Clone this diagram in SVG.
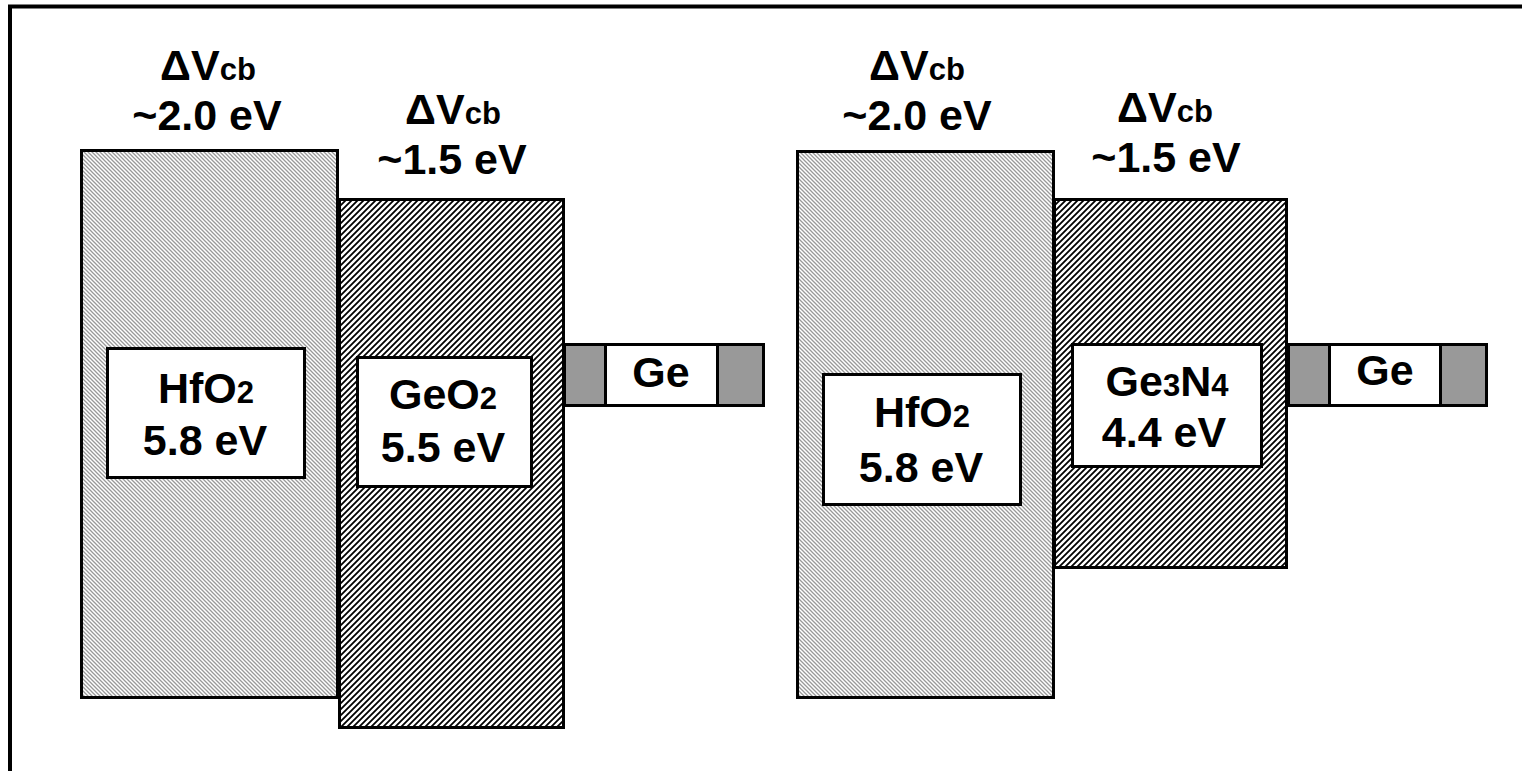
<svg xmlns="http://www.w3.org/2000/svg" width="1522" height="771" viewBox="0 0 1522 771">
<defs>
<pattern id="hatchGray" width="4" height="4" patternUnits="userSpaceOnUse">
<rect width="4" height="4" fill="#fff"/>
<path d="M-1,-1 L5,5 M-1,3 L1,5 M3,-1 L5,1" stroke="#999" stroke-width="1.3"/>
</pattern>
<pattern id="hatchBlack" width="6" height="6" patternUnits="userSpaceOnUse">
<rect width="6" height="6" fill="#fff"/>
<path d="M-1,7 L7,-1 M-1,1 L1,-1 M5,7 L7,5" stroke="#000" stroke-width="1.8"/>
</pattern>
</defs>
<style>
.t{font-family:"Liberation Sans",Arial,Helvetica,sans-serif;font-weight:bold;fill:#000;text-anchor:middle;font-size:43px}
.s{font-size:31px}
.box{stroke:#000;stroke-width:3}
.hg{fill:url(#hatchGray)}
.hb{fill:url(#hatchBlack)}
.w{fill:#fff}
.g{fill:#999}
</style>
<rect x="10" y="6.5" width="1530" height="800" fill="#fff" stroke="#000" stroke-width="4"/>

<g id="label-left-1">
<text class="t" x="208" y="80">ΔV<tspan class="s">cb</tspan></text>
<text class="t" x="207" y="130">~2.0 eV</text>
</g>
<g id="label-left-2">
<text class="t" x="453" y="124">ΔV<tspan class="s">cb</tspan></text>
<text class="t" x="452" y="174">~1.5 eV</text>
</g>
<g id="label-right-1">
<text class="t" x="917" y="80">ΔV<tspan class="s">cb</tspan></text>
<text class="t" x="917" y="130">~2.0 eV</text>
</g>
<g id="label-right-2">
<text class="t" x="1165" y="122">ΔV<tspan class="s">cb</tspan></text>
<text class="t" x="1166" y="172">~1.5 eV</text>
</g>

<g id="hfo2-left">
<rect class="box hg" x="81.5" y="150.5" width="256" height="547"/>
<rect class="box w" x="107.5" y="348.5" width="197" height="129"/>
<text class="t" x="206" y="403">HfO<tspan class="s">2</tspan></text>
<text class="t" x="205" y="455">5.8 eV</text>
</g>
<g id="geo2-left">
<rect class="box hb" x="339.5" y="199.5" width="224" height="528"/>
<rect class="box w" x="357.5" y="357.5" width="174" height="129"/>
<text class="t" x="443" y="409">GeO<tspan class="s">2</tspan></text>
<text class="t" x="443" y="462">5.5 eV</text>
</g>
<g id="ge-left">
<rect class="box g" x="564.5" y="344.5" width="41" height="61"/>
<rect class="box w" x="605.5" y="344.5" width="112" height="61"/>
<rect class="box g" x="717.5" y="344.5" width="46" height="61"/>
<text class="t" x="661" y="387">Ge</text>
</g>

<g id="hfo2-right">
<rect class="box hg" x="797.5" y="151.5" width="256" height="546"/>
<rect class="box w" x="823.5" y="374.5" width="197" height="130"/>
<text class="t" x="922" y="427">HfO<tspan class="s">2</tspan></text>
<text class="t" x="921" y="482">5.8 eV</text>
</g>
<g id="ge3n4-right">
<rect class="box hb" x="1054.5" y="199.5" width="232" height="368"/>
<rect class="box w" x="1072.5" y="344.5" width="189" height="122"/>
<text class="t" x="1167" y="396">Ge<tspan class="s">3</tspan>N<tspan class="s">4</tspan></text>
<text class="t" x="1164" y="447">4.4 eV</text>
</g>
<g id="ge-right">
<rect class="box g" x="1288.5" y="344.5" width="41" height="61"/>
<rect class="box w" x="1329.5" y="344.5" width="111" height="61"/>
<rect class="box g" x="1440.5" y="344.5" width="46" height="61"/>
<text class="t" x="1385" y="385">Ge</text>
</g>
</svg>
